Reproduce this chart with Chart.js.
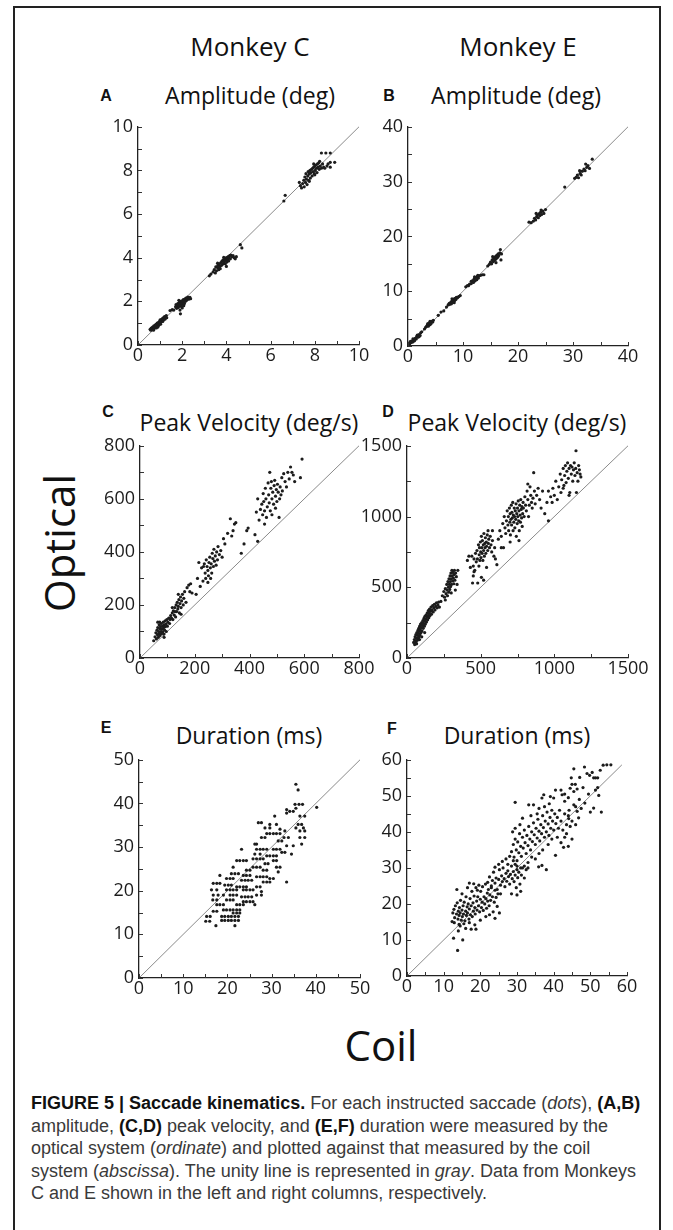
<!DOCTYPE html>
<html>
<head>
<meta charset="utf-8">
<script src="https://cdn.jsdelivr.net/npm/chart.js@4.4.1/dist/chart.umd.min.js"></script>
<style>
  html, body { margin: 0; padding: 0; background: #fff; }
  body { width: 673px; height: 1230px; position: relative; overflow: hidden; font-family: "Open Sans", sans-serif; color: #111; }
  #frame { position: absolute; left: 13px; top: 6px; width: 648px; height: 1260px; border: 2px solid #222; box-sizing: border-box; }
  .lbl { position: absolute; white-space: nowrap; line-height: 1; transform: translate(-50%, -50%); }
  .monkey { font-size: 26px; }
  .ttl { font-size: 23px; }
  .letter { font-family: "Liberation Sans", Arial, sans-serif; font-weight: bold; font-size: 16px; }
  .big { font-size: 42px; }
  #optical { transform: translate(-50%, -50%) rotate(-90deg); }
  canvas { position: absolute; }
  #caption { position: absolute; left: 31px; top: 1092px; font-family: "Liberation Sans", Arial, sans-serif; font-size: 18px; line-height: 22.5px; color: #3a3a3a; white-space: nowrap; }
  #caption b { color: #111; }
</style>
</head>
<body>
<div id="frame"></div>

<div class="lbl monkey" style="left:250px;top:46px">Monkey C</div>
<div class="lbl monkey" style="left:518px;top:46px">Monkey E</div>

<div class="lbl letter" style="left:106px;top:96px">A</div>
<div class="lbl ttl" style="left:250px;top:95px">Amplitude (deg)</div>
<div class="lbl letter" style="left:389px;top:96px">B</div>
<div class="lbl ttl" style="left:516px;top:95px">Amplitude (deg)</div>

<div class="lbl letter" style="left:108px;top:412px">C</div>
<div class="lbl ttl" style="left:249px;top:422px">Peak Velocity (deg/s)</div>
<div class="lbl letter" style="left:388px;top:412px">D</div>
<div class="lbl ttl" style="left:517px;top:422px">Peak Velocity (deg/s)</div>

<div class="lbl letter" style="left:106px;top:728px">E</div>
<div class="lbl ttl" style="left:249px;top:735px">Duration (ms)</div>
<div class="lbl letter" style="left:392px;top:729px">F</div>
<div class="lbl ttl" style="left:517px;top:735px">Duration (ms)</div>

<div id="optical" class="lbl big" style="left:59px;top:543px">Optical</div>
<div class="lbl big" style="left:381px;top:1045px">Coil</div>

<div id="caption"><b>FIGURE 5 | Saccade kinematics.</b> For each instructed saccade (<i>dots</i>), <b>(A,B)</b><br>amplitude, <b>(C,D)</b> peak velocity, and <b>(E,F)</b> duration were measured by the<br>optical system (<i>ordinate</i>) and plotted against that measured by the coil<br>system (<i>abscissa</i>). The unity line is represented in <i>gray</i>. Data from Monkeys<br>C and E shown in the left and right columns, respectively.</div>

<script>
// Saccade measurements: [coil, optical] per saccade.

// Amplitude (deg), Monkey C
const ampC = [
  [0.55,0.72],[0.58,0.68],[0.6,0.78],[0.62,0.7],[0.65,0.75],[0.66,0.82],[0.68,0.72],[0.7,0.8],[0.72,0.88],[0.73,0.76],
  [0.75,0.85],[0.77,0.8],[0.78,0.9],[0.8,0.84],[0.82,0.95],[0.83,0.78],[0.85,0.9],[0.87,1.0],[0.88,0.86],[0.9,0.95],
  [0.92,1.02],[0.94,0.9],[0.95,1.05],[0.97,0.98],[0.99,1.1],[1.0,1.02],[1.02,0.95],[1.04,1.12],[1.05,1.05],[1.07,1.18],
  [1.08,1.1],[1.1,1.2],[1.12,1.08],[1.14,1.25],[1.15,1.15],[1.18,1.22],[1.2,1.3],[1.22,1.18],[1.25,1.28],[1.28,1.35],
  [1.3,1.25],[0.7,0.68],[0.9,0.82],[1.0,1.15],[0.8,0.92],
  [1.45,1.58],[1.55,1.62],[1.62,1.6],[1.7,1.75],[1.72,1.85],[1.75,1.68],[1.78,1.8],[1.8,1.9],[1.82,1.72],[1.85,1.85],
  [1.87,1.95],[1.88,1.78],[1.9,1.88],[1.92,1.43],[1.93,2.0],[1.95,1.82],[1.97,1.92],[1.98,1.75],[2.0,2.02],[2.02,1.88],
  [2.03,1.95],[2.05,2.08],[2.07,1.8],[2.08,2.0],[2.1,1.9],[2.12,2.1],[2.15,2.0],[2.17,2.15],[2.2,2.05],[2.22,2.12],
  [2.25,2.2],[2.3,2.1],[2.35,2.18],[2.38,2.12],[1.9,1.6],[2.0,1.7],[1.85,2.05],
  [3.23,3.17],[3.3,3.25],[3.4,3.35],[3.45,3.45],[3.5,3.3],[3.52,3.58],[3.55,3.4],[3.6,3.55],[3.62,3.65],[3.65,3.45],
  [3.68,3.72],[3.7,3.6],[3.72,3.5],[3.75,3.78],[3.78,3.65],[3.8,3.85],[3.82,3.7],[3.85,3.9],[3.87,3.75],[3.9,3.82],
  [3.92,3.95],[3.95,3.72],[3.97,3.88],[4.0,4.0],[4.02,3.8],[4.05,3.92],[4.08,4.05],[4.1,3.85],[4.12,4.0],[4.15,4.1],
  [4.18,3.95],[4.2,4.12],[4.25,4.05],[4.3,4.1],[4.35,4.0],[4.4,3.95],[4.45,4.05],[4.63,4.6],[4.7,4.45],[3.6,3.75],
  [3.88,4.02],[4.0,3.6],
  [6.6,6.6],[6.66,6.86],[7.3,7.45],[7.35,7.3],[7.4,7.2],[7.45,7.4],[7.5,7.55],[7.52,7.25],[7.55,7.7],[7.58,7.45],
  [7.6,7.85],[7.62,7.6],[7.65,7.35],[7.68,7.75],[7.7,7.95],[7.72,7.55],[7.75,7.85],[7.78,8.0],[7.8,7.65],[7.82,7.9],
  [7.85,8.05],[7.88,7.75],[7.9,8.1],[7.92,7.95],[7.95,8.15],[7.98,7.85],[8.0,8.2],[8.02,8.0],[8.05,8.25],[8.08,8.1],
  [8.1,7.9],[8.12,8.3],[8.15,8.15],[8.18,8.35],[8.2,8.05],[8.22,8.42],[8.25,8.2],[8.3,8.1],[8.3,8.8],[8.35,8.3],
  [8.4,8.15],[8.45,8.1],[8.5,8.8],[8.55,8.2],[8.6,8.3],[8.7,8.8],[8.7,8.37],[8.7,8.15],[8.9,8.37],[7.75,7.5],
  [7.95,8.3],[8.0,7.8]
];

// Amplitude (deg), Monkey E
const ampE = [
  [0.3,0.4],[0.5,0.6],[0.6,0.9],[0.8,0.7],[1.0,1.1],[1.1,0.9],[1.3,1.4],[1.5,1.3],[1.6,1.8],[1.8,1.6],
  [2.0,2.1],[2.2,1.9],[2.3,2.4],[0.9,1.3],[1.7,2.0],[2.5,2.6],[3.0,3.1],[2.0,1.7],[1.2,1.0],[0.4,0.8],
  [3.2,3.4],[3.4,3.6],[3.5,3.8],[3.7,3.6],[3.8,4.0],[3.9,4.2],[4.0,3.9],[4.1,4.3],[4.2,4.1],[4.3,4.5],
  [4.5,4.4],[4.6,4.7],[3.6,4.1],[4.0,4.5],
  [5.5,5.6],[6.0,6.2],[6.5,6.4],[7.0,7.1],
  [7.3,7.5],[7.5,7.8],[7.6,7.6],[7.8,8.0],[7.9,7.7],[8.0,8.2],[8.1,8.0],[8.2,8.4],[8.3,8.1],[8.4,8.6],
  [8.5,8.3],[8.6,8.7],[8.7,8.5],[8.8,8.9],[9.0,8.8],[9.2,9.0],[9.5,9.2],[8.0,8.6],[8.4,7.9],
  [10.5,10.8],[11.0,11.0],
  [10.8,11.0],[11.2,11.3],[11.5,11.4],[11.7,11.9],[11.9,11.6],[12.0,12.2],[12.2,11.9],[12.3,12.5],[12.5,12.1],[12.6,12.7],
  [12.8,12.4],[12.9,12.8],[13.2,12.9],[13.5,13.0],[13.8,13.0],[11.5,11.8],[12.1,12.6],[12.7,12.9],
  [14.5,14.6],
  [14.8,14.9],[15.0,15.3],[15.2,15.0],[15.3,15.7],[15.5,15.4],[15.6,16.0],[15.7,15.6],[15.8,16.2],[15.9,15.8],[16.0,16.4],
  [16.1,16.0],[16.2,16.6],[16.3,16.2],[16.4,16.8],[16.5,16.5],[16.7,17.0],[16.8,17.6],[16.9,15.7],[17.0,16.8],[15.4,16.3],
  [16.0,15.2],
  [22.0,22.6],[22.4,22.5],[22.8,22.8],[23.0,23.3],[23.2,23.0],[23.4,23.6],[23.5,23.9],[23.7,23.4],[23.8,24.1],[24.0,23.8],
  [24.1,24.4],[24.3,24.0],[24.5,24.6],[24.7,24.2],[25.0,24.9],[23.3,24.2],[24.2,24.8],
  [28.5,29.0],
  [30.3,30.6],[30.6,30.8],[30.8,31.2],[31.0,30.7],[31.3,31.5],[31.5,31.2],[31.7,31.9],[32.0,32.3],[32.2,32.0],[32.5,32.6],
  [32.7,32.9],[33.0,32.4],[33.5,34.1],[32.3,33.2],[31.2,32.0]
];

// Peak velocity (deg/s), Monkey C
const velC = [
  [50,65],[55,80],[58,95],[60,72],[62,105],[64,88],[65,115],[67,78],[68,100],[70,125],
  [70,92],[72,110],[73,85],[75,118],[76,100],[78,130],[78,92],[80,108],[82,120],[83,98],
  [85,135],[85,112],[87,90],[88,125],[90,105],[92,140],[92,118],[95,128],[96,100],[98,145],
  [100,120],[102,135],[105,150],[108,130],[110,145],[72,135],[88,78],[65,135],
  [112,160],[115,150],[118,170],[120,145],[122,178],[125,162],[127,190],[130,155],[132,200],[134,175],
  [136,210],[138,185],[140,195],[142,220],[144,170],[146,205],[148,230],[150,190],[152,215],[155,240],
  [158,200],[160,225],[163,250],[168,210],[172,265],[178,275],[182,250],[185,280],[190,245],[128,175],
  [150,165],[118,190],[140,240],
  [205,240],[210,300],[215,360],[220,270],[225,340],[230,290],[235,355],[238,320],[240,300],[242,370],
  [245,345],[248,330],[250,310],[252,360],[255,380],[257,340],[260,355],[262,320],[264,395],[266,375],
  [268,345],[270,410],[272,365],[275,385],[278,350],[280,400],[283,370],[285,420],[290,390],[295,405],
  [300,380],[248,285],[258,300],[232,345],
  [305,450],[310,430],[320,470],[330,525],[335,460],[340,480],[345,505],[350,510],[370,395],[380,430],
  [390,480],[395,490],[420,465],[430,440],
  [425,550],[430,600],[435,520],[440,560],[445,580],[448,540],[450,620],[452,590],[455,555],[458,640],
  [460,600],[462,530],[465,570],[468,660],[470,615],[472,585],[474,700],[476,555],[478,640],[480,665],
  [482,600],[485,625],[488,580],[490,650],[492,670],[495,610],[498,635],[500,590],[502,655],[505,625],
  [508,530],[510,600],[512,645],[515,615],[518,680],[520,630],[525,695],[530,665],[535,645],[540,700],
  [545,675],[550,720],[555,700],[560,690],[565,665],[482,540],[495,565],[455,505],
  [592,750],[586,680]
];

// Peak velocity (deg/s), Monkey E
const velE = [
  [45,110],[50,130],[52,95],[55,150],[58,120],[60,165],[62,105],[65,140],[67,180],[70,125],
  [72,160],[74,195],[76,140],[78,175],[80,210],[82,150],[84,190],[86,225],[88,165],[90,200],
  [92,240],[95,180],[97,215],[100,250],[102,190],[105,230],[108,265],[110,210],[112,245],[115,280],
  [118,225],[120,260],[122,295],[125,240],[128,275],[130,305],[132,255],[135,290],[138,320],[140,270],
  [143,300],[145,335],[148,285],[150,315],[153,345],[156,300],[160,330],[163,360],[166,310],[170,340],
  [174,370],[178,325],[182,355],[186,380],[190,340],[195,365],[200,390],[205,355],[210,375],[215,395],
  [220,360],[65,100],[85,130],[100,150],[120,180],[230,400],
  [240,440],[250,470],[255,430],[260,490],[265,455],[270,520],[272,480],[275,440],[278,540],[280,500],
  [283,465],[285,560],[287,520],[290,485],[292,580],[294,540],[296,505],[298,600],[300,560],[302,520],
  [305,620],[307,580],[310,545],[312,605],[315,565],[318,525],[320,590],[322,620],[325,550],[330,600],
  [335,575],[328,480],[340,520],[300,460],[260,410],[345,620],
  [410,690],[420,720],[430,640],[440,720],[445,530],[450,580],[455,610],
  [450,650],[455,700],[460,620],[465,740],[470,680],[475,760],[478,700],[480,530],[485,800],[488,650],
  [490,730],[492,780],[495,690],[498,820],[500,750],[502,710],[505,860],[508,780],[510,740],[512,830],
  [515,690],[518,800],[520,760],[522,880],[525,720],[528,810],[530,780],[532,850],[535,740],[538,820],
  [540,790],[545,870],[548,760],[550,900],[552,810],[555,840],[560,780],[565,860],[570,800],[575,750],
  [580,830],[590,720],[595,780],[600,700],[610,660],[520,550],[505,570],[540,640],[580,900],
  [620,840],[630,900],[640,860],[650,950],[655,780],[660,1000],[665,920],[670,880],[675,970],[680,1040],
  [685,940],[688,1000],[690,900],[695,1060],[698,960],[700,1020],[702,870],[705,980],[708,1080],[710,940],
  [712,1030],[715,990],[718,1100],[720,900],[722,1010],[725,960],[728,1060],[730,1000],[732,920],[735,1040],
  [738,980],[740,1090],[742,860],[745,1020],[748,950],[750,1060],[752,1000],[755,1110],[758,970],[760,1040],
  [762,900],[765,1080],[768,1010],[770,960],[772,1120],[775,1050],[778,990],[780,1070],[782,930],[785,1020],
  [788,1100],[790,1060],[795,1000],[800,1140],[805,1080],[810,1040],[815,1180],[820,1120],[825,1000],[830,1080],
  [835,1210],[840,1150],[845,1100],[850,1060],[855,1130],[860,1310],[865,1180],[870,1090],[880,1150],[890,1200],
  [900,1120],[910,1060],[920,1180],[935,1020],[950,1100],[960,970],[640,780],[700,820],[760,830],[820,1230],
  [960,1180],[975,1140],[985,1100],[990,1200],[1000,1150],[1010,1250],[1020,1120],[1030,1210],[1040,1300],[1045,1170],
  [1050,1260],[1060,1340],[1065,1220],[1070,1290],[1075,1360],[1080,1240],[1085,1320],[1090,1380],[1095,1270],[1100,1340],
  [1105,1170],[1110,1360],[1115,1300],[1120,1350],[1125,1250],[1130,1330],[1135,1380],[1140,1290],[1145,1340],[1150,1170],
  [1155,1310],[1160,1250],[1165,1360],[1170,1330],[1175,1300],[1180,1280],[1147,1465],[1100,1150],[1060,1200]
];

// Duration (ms), Monkey C
const durC = [
  [35.5,44.4],[36.0,43.1],[35.3,39.8],[36.2,39.8],[37.0,39.8],[40.2,39.1],[33.4,38.6],[34.1,38.2],[33.4,37.8],[34.9,38.2],
  [35.5,38.9],[36.4,37.1],[37.5,37.1],[30.7,37.1],[27.0,35.6],[27.7,35.6],[29.6,35.2],[31.1,35.2],[36.0,35.2],[36.8,35.2],
  [31.9,34.1],[33.0,33.7],[35.5,34.4],[37.2,34.4],[36.4,33.7],[37.5,33.7],[36.4,32.2],[37.5,32.2],[28.5,34.4],[29.6,34.4],
  [28.9,33.1],[29.6,33.1],[30.4,33.1],[31.1,33.1],[31.9,33.1],[27.7,32.2],[28.5,32.2],[32.8,32.2],[33.8,32.2],[31.5,31.4],
  [32.3,31.4],[26.2,30.7],[26.6,30.7],[33.4,30.3],[34.9,30.3],[36.8,30.7],[26.6,29.5],[27.4,29.5],[28.1,29.5],[28.9,29.5],
  [30.4,29.5],[31.1,29.5],[31.9,29.5],[32.3,28.8],[33.0,28.8],[23.2,29.5],[26.2,28.4],[27.4,28.4],[28.9,28.0],[29.6,28.0],
  [30.4,28.0],[31.1,28.0],[34.5,28.4],[25.8,27.3],[26.6,27.3],[27.4,27.3],[28.1,27.3],[30.4,26.9],[31.1,26.9],[22.1,26.9],
  [22.8,26.9],[23.6,26.9],[24.3,26.9],[28.5,26.2],[29.2,26.2],[31.1,25.4],[31.9,25.4],[25.8,25.4],[26.6,25.4],[27.4,25.4],
  [21.3,25.4],[24.3,24.7],[25.1,24.7],[28.1,24.7],[28.9,24.7],[31.5,24.3],[20.9,23.9],[21.7,23.9],[22.5,23.9],[23.6,23.5],
  [24.3,23.5],[25.1,23.5],[26.6,23.2],[27.4,23.2],[28.1,23.2],[28.9,23.2],[18.3,23.5],[19.8,22.8],[20.6,22.8],[21.3,22.8],
  [29.6,22.8],[30.4,22.8],[23.2,22.4],[24.0,22.4],[24.7,22.4],[25.5,22.4],[28.1,22.0],[28.9,22.0],[29.6,22.0],[33.4,22.0],
  [16.8,21.7],[17.6,21.7],[18.3,21.7],[19.4,21.3],[20.2,21.3],[20.9,21.3],[22.1,20.9],[22.8,20.9],[23.6,20.9],[24.3,20.9],
  [26.6,20.9],[27.4,20.9],[16.4,20.2],[17.6,20.2],[19.8,20.2],[20.6,20.2],[21.3,20.2],[22.1,20.2],[23.6,20.2],[24.3,20.2],
  [25.1,20.2],[25.8,20.2],[27.7,19.8],[16.8,19.0],[17.9,19.0],[19.1,19.0],[20.6,19.0],[21.3,19.0],[22.1,19.0],[23.2,18.6],
  [24.0,18.6],[24.7,18.6],[25.5,18.6],[26.6,19.0],[27.7,19.0],[16.7,17.9],[17.6,17.9],[19.8,17.9],[20.6,17.9],[21.3,17.9],
  [23.6,17.5],[24.3,17.5],[25.1,17.5],[25.8,17.5],[17.6,16.8],[18.3,16.8],[19.1,16.8],[22.1,16.8],[22.8,16.8],[23.6,16.8],
  [26.2,16.8],[19.1,15.6],[19.8,15.6],[20.6,15.6],[21.3,15.6],[22.1,15.6],[22.8,15.6],[16.8,15.3],[17.6,15.3],[21.3,14.9],
  [22.1,14.9],[22.8,14.9],[15.3,14.1],[16.1,14.1],[18.7,14.1],[19.4,14.1],[20.2,14.1],[20.9,14.1],[21.7,14.1],[22.5,14.1],
  [18.7,13.2],[19.4,13.2],[20.2,13.2],[20.9,13.2],[21.7,13.2],[22.5,13.2],[15.1,13.0],[16.0,13.0],[17.4,12.0],[21.7,12.0]
];

// Duration (ms), Monkey E
const durE = [
  [12.3,15.1],[12.7,10.5],[13.8,7.1],[15.2,10.0],[17.5,13.0],[18.8,13.0],[14.5,13.9],[12.5,17.5],[12.8,18.5],[13.0,16.2],
  [13.2,19.5],[13.5,17.2],[13.7,20.3],[13.9,15.8],[14.0,18.0],[14.2,16.8],[14.3,19.0],[14.5,17.5],[14.6,21.0],[14.8,15.5],
  [15.0,18.3],[15.1,16.5],[15.3,19.5],[15.4,17.2],[15.6,20.5],[15.8,15.3],[16.0,18.0],[16.1,22.0],[16.2,16.8],[16.4,19.2],
  [16.5,17.5],[16.7,20.0],[16.9,15.8],[17.0,18.6],[17.2,21.5],[17.3,17.0],[17.5,19.5],[17.7,23.5],[17.8,16.5],[18.0,20.3],
  [18.1,18.0],[18.3,22.2],[18.5,19.0],[18.6,17.2],[18.8,24.5],[19.0,20.8],[19.1,18.3],[19.3,22.0],[19.5,19.5],[19.6,25.2],
  [19.8,17.8],[20.0,21.3],[20.1,23.5],[20.3,19.0],[20.5,20.5],[20.6,24.8],[20.8,18.2],[21.0,22.0],[21.2,20.0],[21.4,25.5],
  [21.5,21.5],[21.7,18.8],[21.9,23.0],[22.0,20.8],[22.2,24.0],[22.4,19.5],[22.6,22.5],[22.8,21.0],[23.0,25.0],[23.3,22.0],
  [23.5,17.8],[23.8,20.5],[24.0,23.8],[24.3,21.8],[24.6,19.3],[24.8,22.8],[25.2,17.5],[13.6,24.0],[15.0,22.8],[16.5,24.5],
  [17.0,25.8],[18.2,25.6],[19.2,23.8],[14.0,12.5],[16.0,13.2],[15.5,14.5],[17.0,14.8],[18.5,14.2],[20.0,15.5],[21.5,16.5],
  [22.5,17.0],[24.0,16.0],[14.2,14.3],[12.9,14.8],
  [22.0,26.0],[22.5,27.5],[23.0,24.5],[23.3,26.5],[23.6,28.8],[24.0,25.8],[24.3,27.2],[24.6,24.0],[25.0,26.8],[25.2,29.5],
  [25.5,25.2],[25.8,27.8],[26.0,26.2],[26.2,30.0],[26.5,27.0],[26.7,24.8],[27.0,28.5],[27.2,26.3],[27.5,29.2],[27.7,27.6],
  [28.0,25.5],[28.2,28.2],[28.5,30.5],[28.7,27.0],[29.0,29.0],[29.2,26.2],[29.5,28.0],[29.8,24.5],[30.0,29.5],[30.2,27.3],
  [30.5,28.8],[30.8,25.5],[31.2,28.0],[31.5,30.0],[32.0,27.2],[32.5,29.5],[27.0,32.5],[28.0,33.2],[29.0,32.0],[26.0,31.8],
  [25.0,31.0],[24.0,30.2],[30.0,22.5],[31.0,23.5],[29.5,31.0],[33.0,30.0],[28.5,22.8],[25.5,22.8],[27.5,31.0],
  [28.5,34.5],[29.0,36.5],[29.2,33.0],[29.5,38.0],[29.8,35.0],[30.0,32.0],[30.2,37.2],[30.5,34.2],[30.7,39.5],[31.0,36.0],
  [31.2,33.2],[31.5,38.5],[31.7,35.5],[32.0,40.5],[32.2,37.0],[32.5,34.0],[32.7,39.0],[33.0,36.2],[33.2,41.5],[33.5,38.0],
  [33.7,35.0],[34.0,40.0],[34.2,37.3],[34.5,42.5],[34.7,39.2],[35.0,36.5],[35.2,41.0],[35.5,38.3],[35.7,43.5],[36.0,40.2],
  [36.2,37.5],[36.5,42.0],[36.7,39.5],[37.0,44.5],[37.2,41.2],[37.5,38.5],[37.7,43.0],[38.0,40.0],[38.2,45.5],[38.5,42.2],
  [38.7,39.0],[39.0,44.0],[39.2,41.0],[39.5,46.0],[39.7,43.0],[40.0,40.5],[40.3,45.0],[40.6,42.3],[41.0,44.0],[41.3,41.0],
  [41.6,46.0],[42.0,43.0],[42.5,40.5],[43.0,45.0],[43.5,42.0],[44.0,44.5],[44.5,41.5],[45.0,43.0],[34.5,47.5],[33.2,47.5],
  [29.5,48.2],[37.3,50.3],[36.8,49.4],[39.1,49.8],[40.0,49.4],[40.5,51.6],[42.0,51.6],[42.3,50.3],[31.0,30.0],[33.0,31.5],
  [34.0,33.0],[36.0,34.0],[32.0,30.5],[35.0,32.5],[37.0,35.0],[38.5,36.5],[39.5,38.0],[41.0,38.5],[42.0,37.0],[43.0,38.5],
  [44.0,36.0],[40.5,33.5],[43.5,39.5],[30.0,30.5],[35.5,45.0],[37.5,47.0],[30.8,42.0],[31.5,43.8],[33.8,44.5],[36.0,46.5],
  [38.8,47.8],[43.0,48.5],[45.5,47.5],[44.1,43.7],[46.8,43.9],[46.4,45.7],[50.9,46.6],[29.5,41.0],[28.8,40.0],
  [42.7,35.7],[35.9,30.3],[36.8,30.7],[38.0,29.5],[45.0,38.0],[46.0,42.0],
  [45.5,57.5],[47.1,55.1],[48.4,58.0],[49.1,56.2],[49.8,55.7],[50.5,56.5],[50.9,55.0],[51.4,55.0],[52.0,55.0],[52.7,57.1],
  [53.5,58.5],[54.5,58.6],[55.6,58.6],[44.8,55.0],[45.0,53.2],[45.9,53.2],[46.4,51.9],[45.5,51.2],[44.5,52.1],[48.0,52.3],
  [51.4,51.6],[52.0,52.3],[52.3,50.1],[47.0,49.0],[48.5,48.0],[46.0,47.0],[49.5,50.5],[50.0,45.5],[53.0,45.5],[47.5,46.5],
  [44.0,49.5],[43.0,50.5],[44.2,46.0]
];

// Axis ranges, labelled ticks and unity-line ends for each panel
const ampCTicks = [0, 2, 4, 6, 8, 10];
const ampETicks = [0, 10, 20, 30, 40];
const velCTicks = [0, 200, 400, 600, 800];
const velETicks = [0, 500, 1000, 1500];
const durCTicks = [0, 10, 20, 30, 40, 50];
const durETicks = [0, 10, 20, 30, 40, 50, 60];
const ampCUnity = [0, 10];
const ampEUnity = [0, 40];
const velCUnity = [0, 800];
const velEUnity = [0, 1500];
const durCUnity = [0, 50];
const durEUnity = [0, 58.6];

const Y_W = 52, X_H = 30, PAD_T = 12, PAD_R = 26;
const INK = '#1c1c1c';
const TICK_LEN = 4;

// Short tick marks pointing into the plot area, one per tick value
const inwardTicks = {
  id: 'inwardTicks',
  afterDraw(chart) {
    const { ctx, chartArea, scales } = chart;
    ctx.save();
    ctx.strokeStyle = '#333';
    ctx.lineWidth = 1;
    ctx.beginPath();
    scales.x.ticks.forEach(t => {
      const px = Math.round(scales.x.getPixelForValue(t.value)) + 0.5;
      ctx.moveTo(px, chartArea.bottom);
      ctx.lineTo(px, chartArea.bottom - TICK_LEN);
    });
    scales.y.ticks.forEach(t => {
      const py = Math.round(scales.y.getPixelForValue(t.value)) + 0.5;
      ctx.moveTo(chartArea.left, py);
      ctx.lineTo(chartArea.left + TICK_LEN, py);
    });
    ctx.stroke();
    ctx.restore();
  }
};

function panel(box, points, labels, minor, unity) {
  const cv = document.createElement('canvas');
  cv.width = Y_W + box.w + PAD_R;
  cv.height = PAD_T + box.h + X_H;
  cv.style.left = (box.x - Y_W) + 'px';
  cv.style.top = (box.y - PAD_T) + 'px';
  document.body.appendChild(cv);
  const max = labels[labels.length - 1];
  const axis = (pos) => ({
    type: 'linear', position: pos, min: 0, max: max,
    afterFit: s => { if (pos === 'left') s.width = Y_W; else s.height = X_H; },
    ticks: {
      stepSize: minor, autoSkip: false, maxRotation: 0, color: INK,
      padding: pos === 'left' ? 5 : 0,
      font: { family: 'Open Sans', size: 18 },
      callback: v => labels.includes(v) ? String(v) : ''
    },
    grid: { drawOnChartArea: false, drawTicks: false },
    border: { display: true, color: '#222', width: 1.3 }
  });
  new Chart(cv, {
    type: 'scatter',
    data: {
      datasets: [
        { type: 'line', data: unity.map(v => ({ x: v, y: v })), borderColor: '#8a8a8a', borderWidth: 1,
          pointRadius: 0, order: 2 },
        { data: points.map(p => ({ x: p[0], y: p[1] })), pointRadius: 1.6, pointBackgroundColor: INK,
          pointBorderWidth: 0, order: 1 }
      ]
    },
    options: {
      responsive: false, animation: false, events: [], clip: false,
      layout: { padding: { top: PAD_T, right: PAD_R, left: 0, bottom: 0 } },
      plugins: { legend: { display: false }, tooltip: { enabled: false } },
      scales: { x: axis('bottom'), y: axis('left') }
    },
    plugins: [inwardTicks]
  });
}

panel({ x: 138, y: 123, w: 221, h: 222 }, ampC, ampCTicks, 1, ampCUnity);
panel({ x: 408, y: 123, w: 220, h: 223 }, ampE, ampETicks, 5, ampEUnity);
panel({ x: 140, y: 442, w: 219, h: 216 }, velC, velCTicks, 100, velCUnity);
panel({ x: 407, y: 442, w: 221, h: 216 }, velE, velETicks, 250, velEUnity);
panel({ x: 139, y: 756, w: 221, h: 222 }, durC, durCTicks, 5, durCUnity);
panel({ x: 407, y: 756, w: 220, h: 220 }, durE, durETicks, 5, durEUnity);
</script>
</body>
</html>
